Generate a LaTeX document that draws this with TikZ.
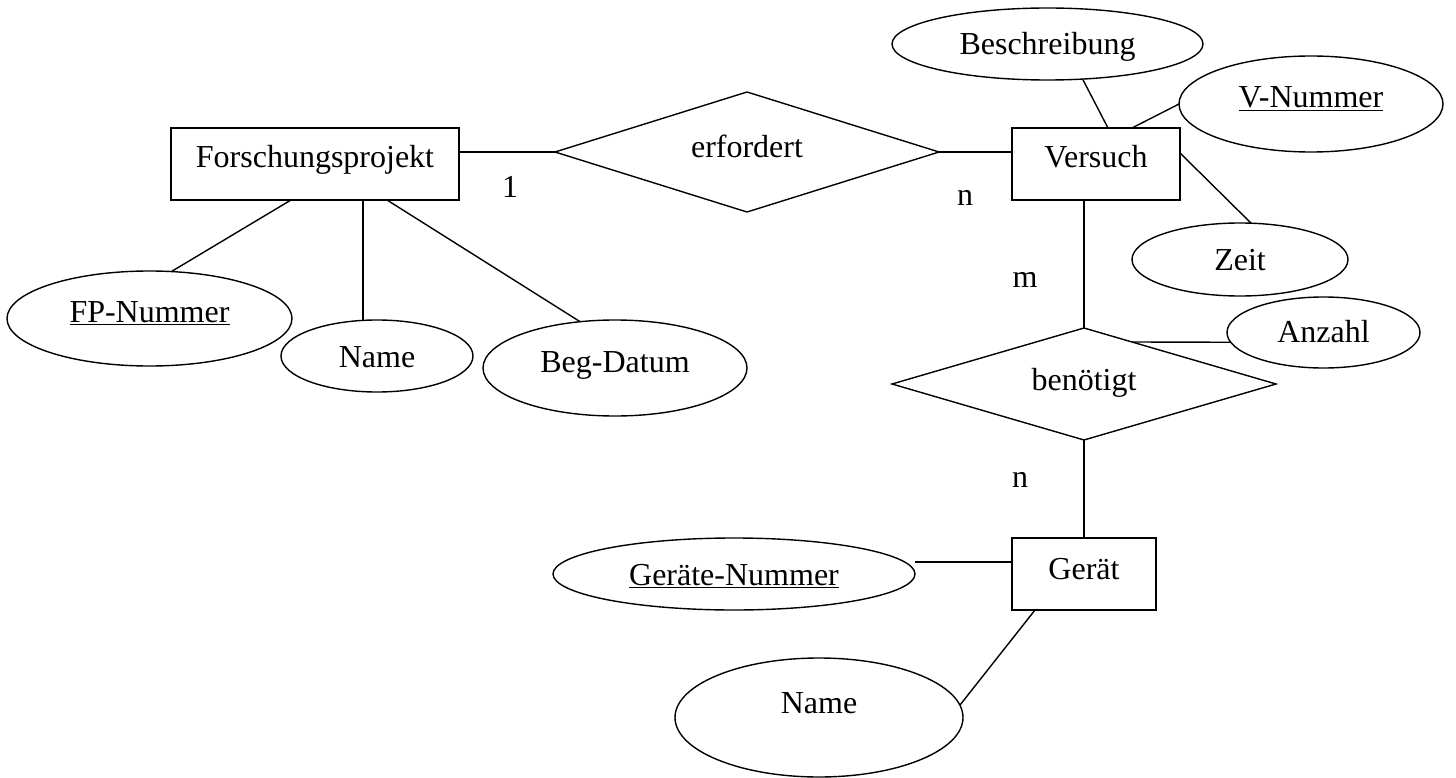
\documentclass[tikz,border=0pt]{standalone}
\usepackage{fontspec}
\setmainfont{Liberation Serif}
\usetikzlibrary{shapes.geometric,calc}
\tikzset{
  er/.style={draw, line width=1.4pt, inner sep=0pt, outer sep=0pt, font=\fontsize{32}{38}\selectfont},
  entity/.style={er, rectangle},
  attr/.style={er, ellipse},
  rel/.style={er, diamond},
  card/.style={inner sep=0pt, outer sep=0pt, font=\fontsize{32}{38}\selectfont},
  link/.style={line width=1.4pt},
}
\begin{document}
\begin{tikzpicture}[x=1pt,y=-1pt]
\useasboundingbox (0,0) rectangle (1456,778);

% entities
\node[entity, minimum width=288pt, minimum height=72pt, text height=26pt, text depth=18pt] (fp) at (315,164) {Forschungsprojekt};
\node[entity, minimum width=168pt, minimum height=72pt, text height=26pt, text depth=18pt] (vers) at (1096,164) {Versuch};
\node[entity, minimum width=144pt, minimum height=72pt, text height=27pt, text depth=17pt] (ger) at (1084,574) {Gerät};

% relationships
\node[rel, aspect=3.2, minimum width=384pt, minimum height=120pt, text height=28pt, text depth=16pt] (erf) at (747,152) {erfordert};
\node[rel, aspect=3.43, minimum width=384pt, minimum height=112pt, text height=28pt, text depth=16pt] (ben) at (1084,384) {benötigt};

% attributes
\node[attr, minimum width=285pt, minimum height=95pt, text height=25.5pt, text depth=18.5pt] (fpn) at (149.5,318.5) {\underline{FP-Nummer}};
\node[attr, minimum width=192pt, minimum height=72pt, text height=33pt, text depth=11pt] (nam1) at (377,356) {Name};
\node[attr, minimum width=264pt, minimum height=96pt, text height=26pt, text depth=18pt] (beg) at (615,368) {Beg-Datum};
\node[attr, minimum width=311pt, minimum height=72pt, text height=33pt, text depth=11pt] (besch) at (1047.5,44) {Beschreibung};
\node[attr, minimum width=264pt, minimum height=96pt, text height=26pt, text depth=18pt] (vnum) at (1311,104) {\underline{V-Nummer}};
\node[attr, minimum width=216pt, minimum height=73pt, text height=32.5pt, text depth=11.5pt] (zeit) at (1240,259.5) {Zeit};
\node[attr, minimum width=193pt, minimum height=71pt, text height=31.5pt, text depth=12.5pt] (anz) at (1323.5,332.5) {Anzahl};
\node[attr, minimum width=362pt, minimum height=72pt, text height=33pt, text depth=11pt] (gnum) at (734,574) {\underline{Geräte-Nummer}};
\node[attr, minimum width=288pt, minimum height=119pt, text height=17.5pt, text depth=26.5pt] (nam2) at (819,717.5) {Name};

% cardinalities
\node[card] (c1) at (510,187) {1};
\node[card] (c2) at (965,198) {n};
\node[card] (c3) at (1025,280) {m};
\node[card] (c4) at (1020,480) {n};

% connectors
\draw[link] ([yshift=12pt]fp.east) -- (erf.west);
\draw[link] (erf.east) -- (erf.east -| vers.west);
\draw[link] ([xshift=-24pt]fp.south) -- (fpn.65);
\draw[link] ([xshift=48pt]fp.south) -- ([xshift=48pt]fp.south |- nam1.north);
\draw[link] ([xshift=72pt]fp.south) -- (beg.127);
\draw[link] ([xshift=12pt]vers.north) -- (besch.-45);
\draw[link] ([xshift=36pt]vers.north) -- (vnum.west);
\draw[link] ([yshift=11pt]vers.east) -- (zeit.73);
\draw[link] (ben.north |- vers.south) -- (ben.north);
\draw[link] ($(ben.north)!0.25!(ben.east)$) -- (anz.186);
\draw[link] (ben.south) -- (ger.north);
\draw[link] ([yshift=12pt]ger.west) -- ([yshift=12pt]ger.west -| gnum.east);
\draw[link] ([xshift=-49pt]ger.south) -- (nam2.5);
\end{tikzpicture}
\end{document}
